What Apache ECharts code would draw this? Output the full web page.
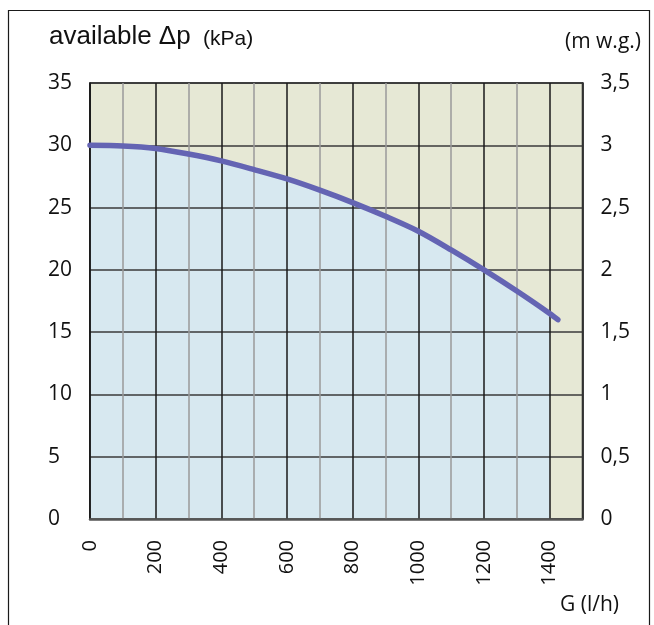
<!DOCTYPE html>
<html>
<head>
    <meta charset="utf-8">
    <title>available dp</title>
    <script src="https://cdn.jsdelivr.net/npm/echarts@6/dist/echarts.min.js"></script>
    <style type="text/css">
        html, body {margin:0; padding:0; background:#ffffff;}
    </style>
</head>
<body>
<div id="container" style="width: 654px;height:625px;"></div>

<script type="text/javascript">
    // flow G (l/h) and available pressure (kPa)
    var flowValues = [0, 100, 200, 300, 400, 500, 600, 700, 800, 900, 1000, 1100, 1200, 1300, 1400, 1425];
    var pressureValues = [30.0, 29.95, 29.75, 29.3, 28.75, 28.05, 27.3, 26.4, 25.4, 24.3, 23.1, 21.6, 20.0, 18.3, 16.5, 16.0];
    // shaded region ends at this flow
    var fillLimit = 1400;

    var curveData = [];
    var fillData = [];
    for (var i = 0; i < flowValues.length; i++) {
        curveData.push([flowValues[i], pressureValues[i]]);
        if (flowValues[i] <= fillLimit) fillData.push([flowValues[i], pressureValues[i]]);
    }

    var labelFont = 'Open Sans';
    var titleFont = 'Liberation Sans';
    var dom = document.getElementById("container");
    var myChart = echarts.init(dom);

    var option = {
        backgroundColor: '#ffffff',
        animation: false,
        grid: {
            left: 90,
            top: 83,
            right: 71.5,
            bottom: 106,
            show: true,
            backgroundColor: '#e6e8d5',
            borderColor: '#1a1a1a',
            borderWidth: 1.5
        },
        xAxis: {
            type: 'value',
            min: 0,
            max: 1500,
            interval: 100,
            z: 5,
            axisLine: {show: true, onZero: false, lineStyle: {color: '#555555', width: 2.5}},
            axisTick: {show: false},
            splitLine: {
                show: true,
                lineStyle: {color: ['#1a1a1a', '#9a9a9a'], width: 1.5}
            },
            axisLabel: {
                rotate: 90,
                margin: 21,
                fontFamily: labelFont,
                fontSize: 20,
                color: '#111111',
                showMaxLabel: false,
                formatter: function (v) {
                    return (v % 200 === 0 && v < 1500) ? String(v) : '';
                }
            }
        },
        yAxis: [{
            type: 'value',
            min: 0,
            max: 35,
            interval: 5,
            z: 5,
            axisLine: {show: true, lineStyle: {color: '#1a1a1a', width: 1.5}},
            axisTick: {show: false},
            splitLine: {show: true, lineStyle: {color: '#3a3a3a', width: 1.5}},
            axisLabel: {
                margin: 42,
                align: 'left',
                padding: [0, 0, 6, 0],
                fontFamily: labelFont,
                fontSize: 21,
                color: '#111111'
            }
        }, {
            type: 'value',
            position: 'right',
            min: 0,
            max: 3.5,
            interval: 0.5,
            z: 5,
            axisLine: {show: true, lineStyle: {color: '#1a1a1a', width: 1.5}},
            axisTick: {show: false},
            splitLine: {show: false},
            axisLabel: {
                margin: 18,
                align: 'left',
                padding: [0, 0, 6, 0],
                fontFamily: labelFont,
                fontSize: 21,
                color: '#111111',
                formatter: function (v) {
                    return String(v).replace('.', ',');
                }
            }
        }],
        series: [{
            // blue shaded area under the curve, up to 1400 l/h
            type: 'line',
            data: fillData,
            smooth: 0.3,
            showSymbol: false,
            z: 1,
            lineStyle: {width: 0},
            areaStyle: {color: '#d7e8f0', opacity: 1}
        }, {
            type: 'line',
            data: curveData,
            smooth: 0.3,
            showSymbol: false,
            z: 10,
            lineStyle: {color: '#6464b3', width: 5.5, cap: 'round'}
        }],
        graphic: [{
            type: 'rect',
            shape: {x: 8.5, y: 10.5, width: 641, height: 630},
            style: {fill: 'none', stroke: '#1a1a1a', lineWidth: 1.2},
            silent: true
        }, {
            type: 'text',
            x: 49,
            y: 37,
            style: {text: 'available Δp', fontFamily: titleFont, fontSize: 26, fill: '#111111', verticalAlign: 'middle'}
        }, {
            type: 'text',
            x: 203,
            y: 39.5,
            style: {text: '(kPa)', fontFamily: titleFont, fontSize: 21, fill: '#111111', verticalAlign: 'middle'}
        }, {
            type: 'text',
            x: 641,
            y: 42.5,
            style: {text: '(m w.g.)', fontFamily: labelFont, fontSize: 21, fill: '#111111', align: 'right', verticalAlign: 'middle'}
        }, {
            type: 'text',
            x: 560,
            y: 605,
            style: {text: 'G (l/h)', fontFamily: labelFont, fontSize: 21, fill: '#111111', verticalAlign: 'middle'}
        }]
    };

    myChart.setOption(option, true);
</script>
</body>
</html>
